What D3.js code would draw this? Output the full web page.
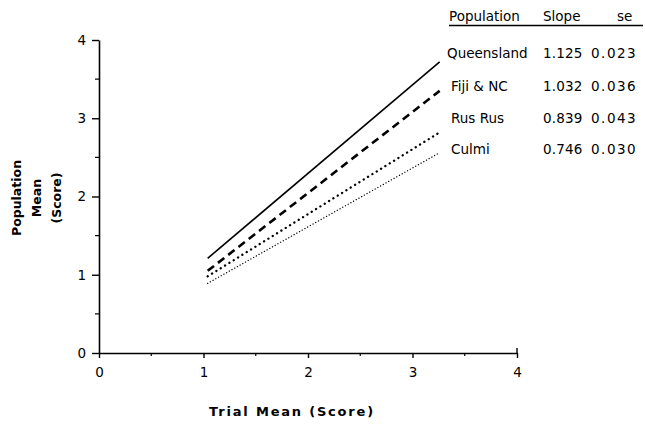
<!DOCTYPE html>
<html>
<head>
<meta charset="utf-8">
<script src="https://cdn.jsdelivr.net/npm/d3@7"></script>
<style>
body { margin: 0; background: #fff; }
text { font-family: "DejaVu Sans", sans-serif; fill: #000; }
</style>
</head>
<body>
<svg id="chart" width="645" height="426"></svg>
<script>
// values
var populations = ["Queensland", "Fiji & NC", "Rus Rus", "Culmi"]
var slopes = ["1.125", "1.032", "0.839", "0.746"]
var ses = ["0.023", "0.036", "0.043", "0.030"]
var trialRange = [1.04, 3.26]
var startMeans = [1.21, 1.05, 0.98, 0.89]
var endMeans = [3.72, 3.35, 2.82, 2.56]
var xTicks = [0, 1, 2, 3, 4]
var yTicks = [0, 1, 2, 3, 4]

var styles = [
    { width: 1.6, dash: null, cap: "butt" },
    { width: 2.6, dash: "8,5", cap: "butt" },
    { width: 2.3, dash: "0.1,5", cap: "round" },
    { width: 1.3, dash: "0.1,3", cap: "round" }
]

var svg = d3.select("#chart"),
    margin = { top: 40, left: 99 },
    width = 418,
    height = 313

var x = d3.scaleLinear().domain([0, 4]).range([0, width])
var y = d3.scaleLinear().domain([0, 4]).range([height, 0])

var g = svg.append("g")
    .attr("transform", "translate(" + margin.left + "," + margin.top + ")")

// minor ticks at the halves
g.append("g").selectAll("line.xm")
    .data([0.5, 1.5, 2.5, 3.5]).enter().append("line")
    .attr("x1", function (d) { return x(d) }).attr("x2", function (d) { return x(d) })
    .attr("y1", height).attr("y2", height + 3)
    .attr("stroke", "#000").attr("stroke-width", 1.2)
g.append("g").selectAll("line.ym")
    .data([0.5, 1.5, 2.5, 3.5]).enter().append("line")
    .attr("x1", -4).attr("x2", 0)
    .attr("y1", function (d) { return y(d) }).attr("y2", function (d) { return y(d) })
    .attr("stroke", "#000").attr("stroke-width", 1.2)

var xAxis = g.append("g")
    .attr("transform", "translate(0," + height + ")")
    .call(d3.axisBottom(x).tickValues(xTicks).tickFormat(d3.format("d")).tickSize(5).tickSizeOuter(0).tickPadding(9))
var yAxis = g.append("g")
    .call(d3.axisLeft(y).tickValues(yTicks).tickFormat(d3.format("d")).tickSize(7).tickSizeOuter(0).tickPadding(6))

xAxis.select(".domain").attr("stroke-width", 1.6)
yAxis.select(".domain").attr("stroke-width", 1.6)
svg.selectAll(".tick line").attr("stroke-width", 1.4)
svg.selectAll(".tick text").style("font-size", "13.5px").style("font-family", "DejaVu Sans, sans-serif")
// end tick on the right of the x axis points up
g.append("line")
    .attr("x1", x(4)).attr("x2", x(4))
    .attr("y1", height).attr("y2", height - 5)
    .attr("stroke", "#000").attr("stroke-width", 1.4)

// regression lines
var line = d3.line()
    .x(function (d) { return x(d[0]) })
    .y(function (d) { return y(d[1]) })

populations.forEach(function (p, i) {
    var pts = [[trialRange[0], startMeans[i]], [trialRange[1], endMeans[i]]]
    g.append("path")
        .attr("d", line(pts))
        .attr("fill", "none")
        .attr("stroke", "#000")
        .attr("stroke-width", styles[i].width)
        .attr("stroke-linecap", styles[i].cap)
        .attr("stroke-dasharray", styles[i].dash)
})

// axis titles
svg.append("text")
    .attr("x", 292).attr("y", 416)
    .attr("text-anchor", "middle")
    .style("font-size", "13px").style("font-weight", "bold").style("letter-spacing", "1.8px")
    .text("Trial Mean (Score)")

var ytitle = svg.append("text")
    .attr("transform", "translate(37,198) rotate(-90)")
    .attr("text-anchor", "middle")
    .style("font-size", "12.5px").style("font-weight", "bold")
var ylines = ["Population", "Mean", "(Score)"]
ylines.forEach(function (t, i) {
    ytitle.append("tspan").attr("x", 0).attr("y", -16 + i * 20).text(t)
})

// table in the top right
var colX = [449, 543, 591]
var header = svg.append("g").style("font-size", "13.5px")
header.append("text").attr("x", colX[0]).attr("y", 21).text("Population")
header.append("text").attr("x", colX[1]).attr("y", 21).text("Slope")
header.append("text").attr("x", 617).attr("y", 21).text("se")
header.append("line")
    .attr("x1", 449).attr("x2", 643).attr("y1", 25.5).attr("y2", 25.5)
    .attr("stroke", "#000").attr("stroke-width", 1.3)

var rowY = [58, 91, 123, 154]
var rowX = [447, 451, 451, 451]
var rows = svg.append("g").style("font-size", "13.5px")
populations.forEach(function (p, i) {
    rows.append("text").attr("x", rowX[i]).attr("y", rowY[i]).style("letter-spacing", "0.2px").text(slopes[i])
        .attr("x", colX[1])
    rows.append("text").attr("x", rowX[i]).attr("y", rowY[i]).text(p)
    rows.append("text").attr("x", colX[2]).attr("y", rowY[i]).style("letter-spacing", "1.5px").text(ses[i])
})
</script>
</body>
</html>
